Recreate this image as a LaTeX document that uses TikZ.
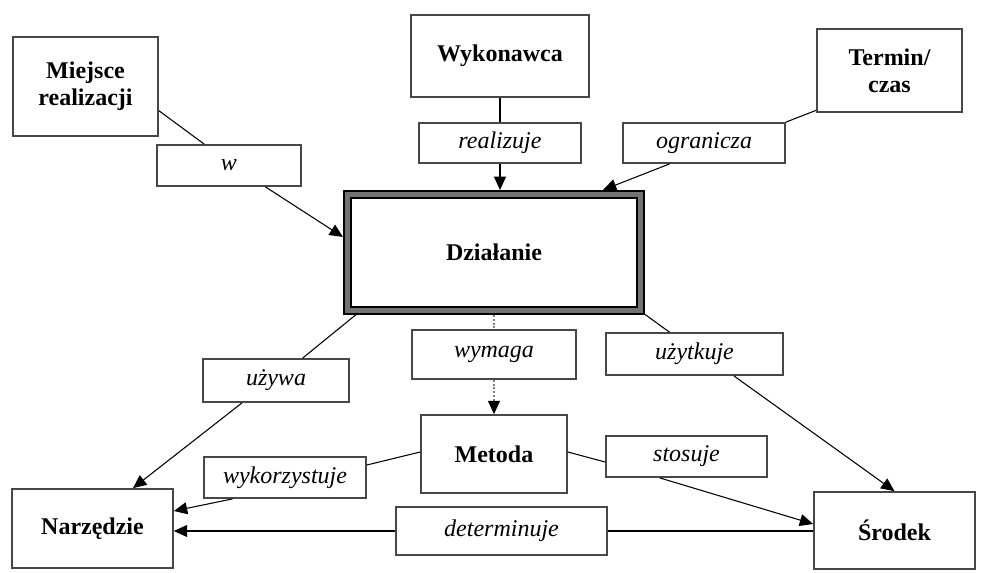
\documentclass[tikz,border=0pt]{standalone}
\usepackage{fontspec}
\setmainfont{Liberation Serif}
\usetikzlibrary{arrows.meta,calc}
\begin{document}
\begin{tikzpicture}[x=0.75pt,y=-0.75pt,
  concept/.style={draw=black!72, line width=1.3pt, fill=white, inner sep=0pt,
    align=center, font=\fontsize{18}{20}\selectfont\bfseries},
  relation/.style={draw=black!72, line width=1.3pt, fill=white, inner sep=0pt,
    font=\fontsize{18}{20}\selectfont\itshape},
  link/.style={line width=0.8pt, black},
  tip/.style={-{Triangle[length=10pt,width=9pt,black]}},
  arrowlink/.style={link, tip},
  dottedlink/.style={line width=1pt, black!50, dash pattern=on 1.5pt off 1.3pt},
]
\useasboundingbox (0,0) rectangle (986,572);

% concepts
\node[concept, minimum width=108.75pt, minimum height=74.25pt] (miejsce) at (85.5,86.5) {Miejsce\\realizacji};
\node[concept, minimum width=133.5pt, minimum height=61.5pt] (wyk) at (500,56) {Wykonawca};
\node[concept, minimum width=108.75pt, minimum height=62.25pt] (termin) at (889.5,70.5) {Termin/\\czas};
\node[concept, draw=black, double=black!55, double distance=4pt, line width=1.4pt,
      minimum width=219.75pt, minimum height=87pt, outer sep=3.4pt] (dz) at (494,252.5) {Działanie};
\node[concept, minimum width=109.5pt, minimum height=58.5pt] (met) at (494,454) {Metoda};
\node[concept, minimum width=120.75pt, minimum height=59.25pt] (narz) at (92.5,528.5) {Narzędzie};
\node[concept, minimum width=120.75pt, minimum height=57.75pt] (srodek) at (894.5,530.5) {Środek};

% relation labels
\node[relation, minimum width=108pt, minimum height=30.75pt] (w) at (229,165.5) {w};
\node[relation, minimum width=121.5pt, minimum height=30pt] (real) at (500,143) {realizuje};
\node[relation, minimum width=121.5pt, minimum height=30pt] (ogr) at (704,143) {ogranicza};
\node[relation, minimum width=109.5pt, minimum height=32.25pt] (uzywa) at (276,380.5) {używa};
\node[relation, minimum width=123pt, minimum height=36.75pt] (wym) at (494,354.5) {wymaga};
\node[relation, minimum width=132.75pt, minimum height=31.5pt] (uzyt) at (694.5,354) {użytkuje};
\node[relation, minimum width=120.75pt, minimum height=30.75pt] (sto) at (686.5,456.5) {stosuje};
\node[relation, minimum width=121.5pt, minimum height=30.75pt] (wykorz) at (285,477.5) {wykorzystuje};
\node[relation, minimum width=158.25pt, minimum height=36pt] (det) at (501.5,531) {determinuje};

% Miejsce realizacji -> Działanie
\draw[link] ($(miejsce.north east)!0.74!(miejsce.south east)$) -- ($(w.north west)!0.33!(w.north east)$);
\draw[arrowlink] ($(w.south west)!0.75!(w.south east)$) -- ($(dz.west)+(0,-15.5)$);

% Wykonawca -> Działanie
\draw[link] (wyk.south) -- (real.north);
\draw[arrowlink] (real.south) -- (real.south |- dz.north);

% Termin/czas -> Działanie
\draw[link] ($(termin.north west)!0.97!(termin.south west)$) -- (ogr.north east);
\draw[arrowlink] ($(ogr.south west)!0.29!(ogr.south east)$) -- ($(dz.north)+(109,0)$);

% Działanie -> Narzędzie
\draw[link] ($(dz.south west)+(15,-2)$) -- ($(uzywa.north west)!0.68!(uzywa.north east)$);
\draw[arrowlink] ($(uzywa.south west)!0.27!(uzywa.south east)$) -- ($(narz.north)+(40.5,0)$);

% Działanie -> Metoda
\draw[dottedlink] (dz.south) -- (wym.north);
\draw[dottedlink, tip] (wym.south) -- (met.north);

% Działanie -> Środek
\draw[link] ($(dz.south east)+(-2,-2)$) -- ($(uzyt.north west)!0.36!(uzyt.north east)$);
\draw[arrowlink] ($(uzyt.south west)!0.72!(uzyt.south east)$) -- (srodek.north);

% Metoda -> Środek
\draw[link] ($(met.east)+(0,-2)$) -- ($(sto.west)+(0,5.5)$);
\draw[arrowlink] ($(sto.south west)!0.335!(sto.south east)$) -- ($(srodek.west)+(0,-6.5)$);

% Metoda -> Narzędzie
\draw[link] ($(met.west)+(0,-2)$) -- ($(wykorz.east)+(0,-12.5)$);
\draw[arrowlink] ($(wykorz.south west)!0.18!(wykorz.south east)$) -- ($(narz.east)+(0,-17.5)$);

% Środek -> Narzędzie
\draw[link] (det.east -| srodek.west) -- (det.east);
\draw[arrowlink] (det.west) -- (det.west -| narz.east);
\end{tikzpicture}
\end{document}
